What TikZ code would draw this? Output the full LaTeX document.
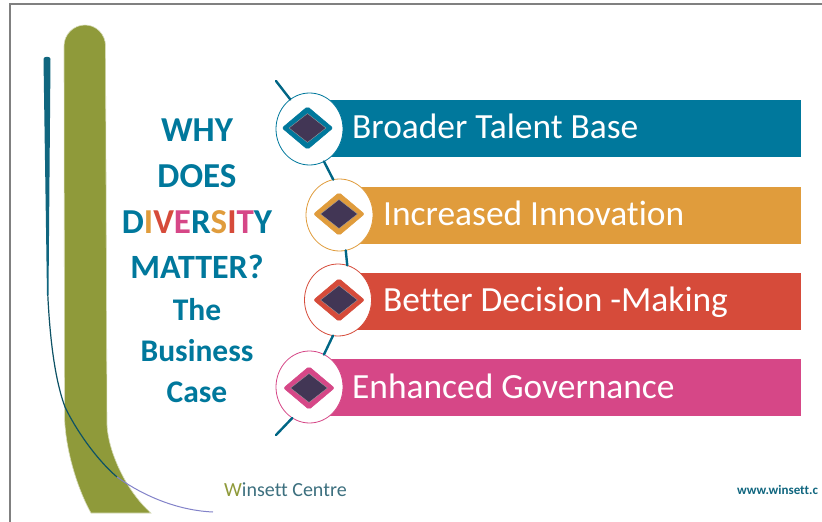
\documentclass[tikz,border=0pt]{standalone}
\usepackage{fontspec}
\setmainfont[Ligatures=NoCommon]{Carlito}
\usetikzlibrary{shapes.geometric}
\definecolor{tealbar}{HTML}{00789C}
\definecolor{orangebar}{HTML}{E09C3C}
\definecolor{redbar}{HTML}{D64B3A}
\definecolor{pinkbar}{HTML}{D64787}
\definecolor{plumfill}{HTML}{423655}
\definecolor{olivecurve}{HTML}{8F9A3A}
\definecolor{darkcurve}{HTML}{10667F}
\definecolor{framegray}{HTML}{808080}
\tikzset{
	barbox/.style={minimum width=#1,minimum height=57pt,inner sep=0pt,outer sep=0pt,anchor=east},
	barlabel/.style={text=white,font=\fontsize{35.4}{36}\selectfont,anchor=base west,inner sep=0pt},
	ringnode/.style={ellipse,draw=#1,fill=white,line width=0.8pt,minimum width=67pt,minimum height=72pt,inner sep=0pt,outer sep=0pt},
	outerdiamond/.style={diamond,fill=#1,draw=#1,rounded corners=2pt,line width=0.5pt,minimum width=51pt,minimum height=43pt,inner sep=0pt},
	innerdiamond/.style={diamond,fill=plumfill,draw=gray!70,line width=0.3pt,minimum width=37pt,minimum height=29pt,inner sep=0pt},
	titleline/.style={text=tealbar,font=\bfseries\fontsize{#1}{#1}\selectfont,inner sep=0pt,anchor=base},
	spineline/.style={tealbar!85!black,line width=2.4pt,line cap=round}
}
\begin{document}
\begin{tikzpicture}[x=1pt,y=-1pt]
	\useasboundingbox (0,0) rectangle (822,522);
	\fill [white] (0,0) rectangle (822,522);
	\draw [framegray,line width=2pt] (10,522)-- (10,4)-- (822,4);

	\fill [olivecurve,draw=olivecurve!35!white,line width=0.6pt] (64,46) .. controls (64,34.5) and (73.5,25) .. (85,25) .. controls (96.5,25) and (105.5,34.5) .. (105.5,46)-- (107,425) .. controls (108,450) and (125,490) .. (151,513)-- (91,513) .. controls (78,490) and (65,450) .. (64.5,415)-- cycle;

	\fill [darkcurve] (43.5,59) .. controls (43.5,56) and (50.5,56) .. (50.5,59)-- (48.5,295)-- (47,295)-- cycle;
	\draw [darkcurve!80!black,line width=1.2pt] (47.8,295) .. controls (50,340) and (55,380) .. (65,407) .. controls (75,428) and (95,458) .. (117,477);
	\draw [gray!60!blue!70,line width=1pt] (117,477) .. controls (135,490) and (170,510) .. (213,512);

	\coordinate (spinetop) at (276,81);
	\coordinate (spinebot) at (276,435);
	\node [barbox=471pt,fill=tealbar] (bar1) at (801,128.5) {};
	\node [barbox=461pt,fill=orangebar] (bar2) at (801,215) {};
	\node [barbox=461pt,fill=redbar] (bar3) at (801,301) {};
	\node [barbox=471pt,fill=pinkbar] (bar4) at (801,387.5) {};

	\node [ringnode=tealbar] (ring1) at (309.5,129) {};
	\node [ringnode=orangebar] (ring2) at (339.5,215) {};
	\node [ringnode=redbar] (ring3) at (338,300) {};
	\node [ringnode=pinkbar] (ring4) at (309.5,387) {};

	\draw [spineline] (spinetop)-- (ring1.123);
	\draw [spineline] (ring1.-66)-- (ring2.100);
	\draw [spineline] (ring2.-80)-- (ring3.75);
	\draw [spineline] (ring3.-98)-- (ring4.66);
	\draw [spineline] (ring4.-119)-- (spinebot);

	\node [outerdiamond=tealbar] (mark1) at (307.5,128) {};
	\node [outerdiamond=orangebar] (mark2) at (339,214) {};
	\node [outerdiamond=redbar] (mark3) at (339,300) {};
	\node [outerdiamond=pinkbar] (mark4) at (309,388) {};
	\node [innerdiamond] (core1) at (mark1) {};
	\node [innerdiamond] (core2) at (mark2) {};
	\node [innerdiamond] (core3) at (mark3) {};
	\node [innerdiamond] (core4) at (mark4) {};

	\node [barlabel] (text1) at (352,138) {Broader Talent Base};
	\node [barlabel] (text2) at (383,225) {Increased Innovation};
	\node [barlabel] (text3) at (383,311.5) {Better Decision -Making};
	\node [barlabel] (text4) at (352,398) {Enhanced Governance};

	\node [titleline=35] (why) at (197,141) {WHY};
	\node [titleline=35] (does) at (197,187) {DOES};
	\node [titleline=35] (diversity) at (197,233) {D\textcolor{orangebar}{I}\textcolor{redbar}{V}\textcolor{pinkbar}{E}R\textcolor{orangebar}{S}\textcolor{redbar}{I}\textcolor{pinkbar}{T}Y};
	\node [titleline=34] (matter) at (197,278) {MATTER?};
	\node [titleline=31.5] (the) at (197,320) {The};
	\node [titleline=31.5] (business) at (197,361) {Business};
	\node [titleline=31.5] (case) at (197,402) {Case};

	\node [text=darkcurve!60!gray,font=\fontsize{20}{24}\selectfont,anchor=base west,inner sep=0pt] (logo) at (224,496) {\textcolor{olivecurve}{W}insett Centre};
	\node [text=darkcurve,font=\bfseries\fontsize{13}{14}\selectfont,anchor=base west,inner sep=0pt] (site) at (737,494) {www.winsett.c};
\end{tikzpicture}
\end{document}
